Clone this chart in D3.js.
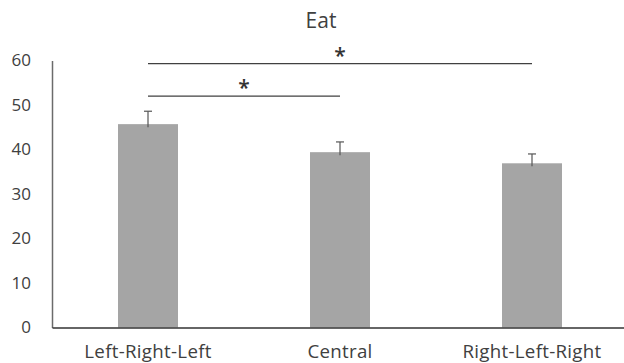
<!DOCTYPE html>
<html><head><meta charset="utf-8">
<script src="https://cdn.jsdelivr.net/npm/d3@7"></script>
<style>body{margin:0;background:#fff}svg{display:block}text{font-family:"Open Sans",sans-serif}</style>
</head><body><svg id="c" width="624" height="363"></svg>
<script>
const categories = ["Left-Right-Left", "Central", "Right-Left-Right"];
const means = [45.7, 39.4, 36.9];
const errors = [2.9, 2.3, 2.1];
const yTicks = [0, 10, 20, 30, 40, 50, 60];
const comparisons = [
  {from: "Left-Right-Left", to: "Central", level: 52.0, label: "*"},
  {from: "Left-Right-Left", to: "Right-Left-Right", level: 59.3, label: "*"}
];
const title = "Eat";

const svg = d3.select("#c");
const x = d3.scaleBand().domain(categories).range([52, 628]).paddingInner(0.6875).paddingOuter(0.34375);
const y = d3.scaleLinear().domain([0, 60]).range([327.5, 60.5]);

// title
svg.append("text").attr("x", 321).attr("y", 27.5).attr("text-anchor", "middle")
  .attr("font-size", 21).attr("fill", "#404040").text(title);

// y axis
const ya = svg.append("g").attr("transform", "translate(52,0)")
  .call(d3.axisLeft(y).tickValues(yTicks).tickSize(0).tickPadding(21));
ya.select(".domain").attr("stroke", "#6b6b6b").attr("stroke-width", 1.5);
ya.selectAll("text").attr("font-size", 17).attr("fill", "#404040").attr("font-family", "Open Sans");

// bars
svg.selectAll("rect.bar").data(categories).join("rect").attr("class", "bar")
  .attr("x", d => x(d)).attr("width", x.bandwidth())
  .attr("y", (d, i) => y(means[i])).attr("height", (d, i) => y(0) - y(means[i]))
  .attr("fill", "#a5a5a5");

// error bars
const eb = svg.append("g").attr("stroke", "#555").attr("stroke-width", 1.2);
categories.forEach((c, i) => {
  const cx = x(c) + x.bandwidth() / 2;
  eb.append("line").attr("x1", cx).attr("x2", cx).attr("y1", y(means[i]) + 3).attr("y2", y(means[i] + errors[i]));
  eb.append("line").attr("x1", cx - 4).attr("x2", cx + 4).attr("y1", y(means[i] + errors[i])).attr("y2", y(means[i] + errors[i]));
});

// x axis
const xa = svg.append("g").attr("transform", `translate(0,${y(0)})`)
  .call(d3.axisBottom(x).tickSize(0).tickPadding(17.5));
xa.select(".domain").attr("stroke", "#333").attr("stroke-width", 1.5);
xa.selectAll("text").attr("font-size", 18.7).attr("letter-spacing", 0.3).attr("fill", "#404040").attr("font-family", "Open Sans");

// significance
comparisons.forEach(cmp => {
  const x1 = x(cmp.from) + x.bandwidth() / 2, x2 = x(cmp.to) + x.bandwidth() / 2;
  svg.append("line").attr("x1", x1).attr("x2", x2).attr("y1", y(cmp.level)).attr("y2", y(cmp.level))
    .attr("stroke", "#404040").attr("stroke-width", 1.3);
  svg.append("text").attr("x", (x1 + x2) / 2).attr("y", y(cmp.level) - 1).attr("text-anchor", "middle")
    .attr("font-size", 21).attr("font-weight", 600).attr("fill", "#333").text(cmp.label);
});
</script></body></html>
